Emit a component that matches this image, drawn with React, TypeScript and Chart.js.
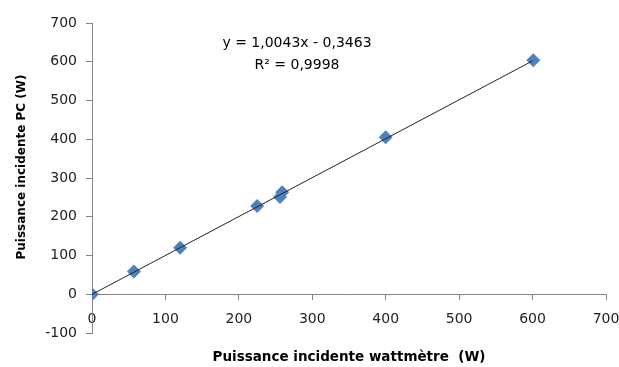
import React, { useEffect, useRef } from "react";
import { Chart, registerables } from "chart.js";

Chart.register(...registerables);

const wattmetre = [0, 57, 120, 225, 256, 259, 400, 601];
const pc = [0, 59, 120, 228, 251, 263, 405, 604];
const trendX = [0, 600];
const trendY = [-0.35, 602.23];
const equation = "y = 1,0043x - 0,3463";
const rSquared = "R² = 0,9998";
const xTitle = "Puissance incidente wattmètre  (W)";
const yTitle = "Puissance incidente PC (W)";

const textPlugin = {
  id: "texts",
  afterDraw(chart: any) {
    const { ctx, chartArea } = chart;
    ctx.save();
    ctx.fillStyle = "#000";
    ctx.textAlign = "center";
    ctx.textBaseline = "middle";
    ctx.font = "14px 'DejaVu Sans'";
    const ex = 297;
    ctx.fillText(equation, ex, 43);
    ctx.fillText(rSquared, ex, 65);
    ctx.font = "bold 13.5px 'DejaVu Sans'";
    ctx.fillText(xTitle, (chartArea.left + chartArea.right) / 2, 357);
    ctx.translate(22, 167);
    ctx.rotate(-Math.PI / 2);
    ctx.font = "bold 12px 'DejaVu Sans'";
    ctx.fillText(yTitle, 0, 0);
    ctx.restore();
  },
};

export default function App() {
  const ref = useRef<HTMLCanvasElement>(null);
  useEffect(() => {
    document.body.style.margin = "0";
    const axisColor = "#868686";
    const chart = new Chart(ref.current!, {
      type: "scatter",
      data: {
        datasets: [
          {
            type: "line",
            data: trendX.map((x, i) => ({ x, y: trendY[i] })),
            borderColor: "#222",
            borderWidth: 1,
            pointRadius: 0,
            fill: false,
          },
          {
            data: wattmetre.map((x, i) => ({ x, y: pc[i] })),
            pointStyle: "rectRot",
            pointRadius: 7,
            backgroundColor: "#4F81BD",
            borderColor: "#4A7EBB",
            borderWidth: 0,
          },
        ],
      },
      options: {
        animation: false,
        responsive: false,
        layout: { padding: { left: 0, right: 0, top: 23, bottom: 34 } },
        plugins: { legend: { display: false }, tooltip: { enabled: false } },
        scales: {
          x: {
            type: "linear",
            position: { y: 0 } as any,
            min: 0,
            max: 700,
            afterFit: (s: any) => { s.paddingRight = 13; },
            ticks: { stepSize: 100, padding: 12, color: "#222", font: { family: "'DejaVu Sans'", size: 14 }, maxRotation: 0 },
            grid: { drawOnChartArea: false, tickLength: 5, color: axisColor, tickColor: axisColor },
            border: { display: true, color: axisColor, width: 1 },
          },
          y: {
            type: "linear",
            min: -100,
            max: 700,
            afterFit: (s: any) => { s.width = 92; },
            ticks: { stepSize: 100, padding: 9, color: "#222", font: { family: "'DejaVu Sans'", size: 14 } },
            grid: { drawOnChartArea: false, tickLength: 6, color: axisColor, tickColor: axisColor },
            border: { display: true, color: axisColor, width: 1 },
          },
        },
      },
      plugins: [textPlugin],
    });
    return () => chart.destroy();
  }, []);
  return <canvas ref={ref} width={619} height={367} style={{ display: "block" }} />;
}
